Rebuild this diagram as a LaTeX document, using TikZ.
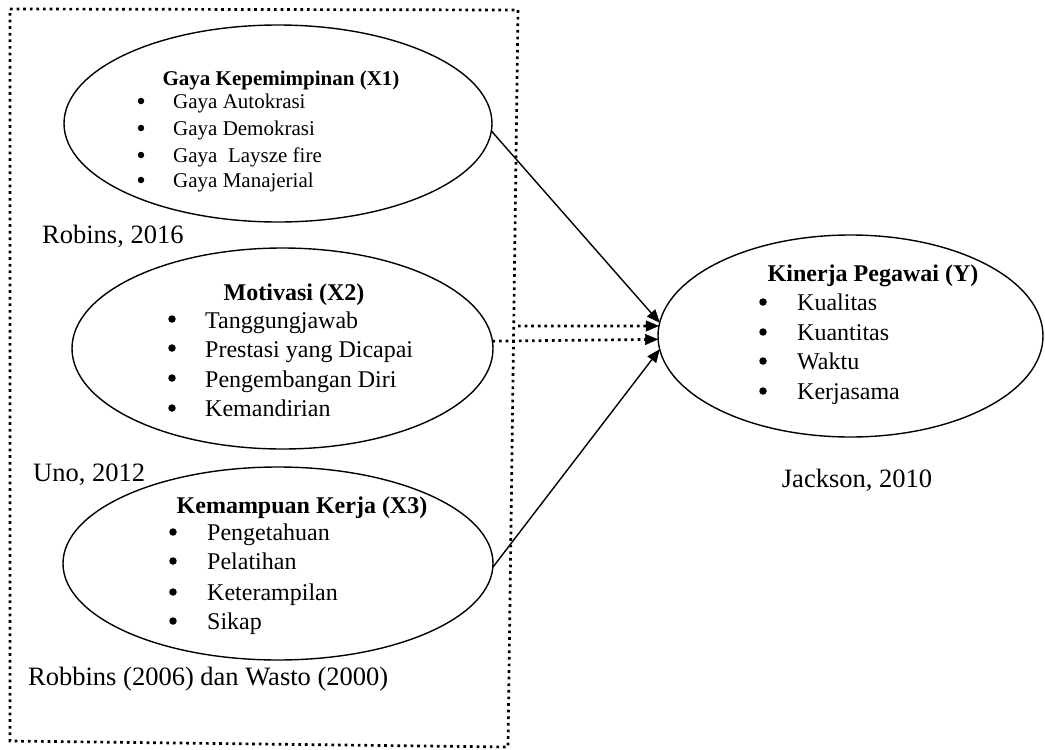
\documentclass[tikz,border=0pt]{standalone}
\usepackage{fontspec}
\setmainfont{Liberation Serif}
\usetikzlibrary{shapes.geometric,arrows.meta}
\begin{document}
\begin{tikzpicture}[x=1pt,y=-1pt,
  oval/.style={draw, ellipse, line width=1.4pt, inner sep=0pt, outer sep=0pt},
  framedots/.style={line width=2.7pt, dash pattern=on 2.7pt off 3.9pt},
  solidarrow/.style={line width=1.4pt, -{Triangle[length=13pt,width=11pt,line width=0.5pt]}},
  dotarrow/.style={line width=2.7pt, dash pattern=on 2.7pt off 3.9pt, -{Triangle[length=13pt,width=11pt,line width=0.5pt]}},
  dotA/.style={circle, fill=black, inner sep=0pt, outer sep=0pt, minimum size=6.5pt},
  dotB/.style={circle, fill=black, inner sep=0pt, outer sep=0pt, minimum size=7.5pt},
  hdA/.style={anchor=base, inner sep=0pt, font=\fontsize{21}{25}\selectfont\bfseries},
  itA/.style={anchor=base west, inner sep=0pt, font=\fontsize{21}{25}\selectfont},
  hdB/.style={anchor=base, inner sep=0pt, font=\fontsize{24}{28}\selectfont\bfseries},
  itB/.style={anchor=base west, inner sep=0pt, font=\fontsize{24}{28}\selectfont},
  src/.style={anchor=base west, inner sep=0pt, font=\fontsize{26.5}{30}\selectfont}
]
\useasboundingbox (0,0) rectangle (1045,750);

% dotted frame
\draw[framedots] (10,9) -- (518,10) -- (508,747) -- (10,741) -- cycle;

% ellipses
\node[oval, minimum width=428pt, minimum height=197pt] (x1) at (278,123.5) {};
\node[oval, minimum width=421pt, minimum height=201pt] (x2) at (282.5,348.5) {};
\node[oval, minimum width=430pt, minimum height=193pt] (x3) at (278,563.5) {};
\node[oval, minimum width=385pt, minimum height=202pt] (y) at (850.5,336) {};

% X1 text
\node[hdA] (x1h) at (281,85) {Gaya Kepemimpinan (X1)};
\node[dotA] (x1b1) at (141,101) {};
\node[dotA] (x1b2) at (141,128) {};
\node[dotA] (x1b3) at (141,155) {};
\node[dotA] (x1b4) at (141,180) {};
\node[itA] (x1i1) at (173,108) {Gaya Autokrasi};
\node[itA] (x1i2) at (173,135) {Gaya Demokrasi};
\node[itA] (x1i3) at (173,162) {Gaya\ \ Laysze fire};
\node[itA] (x1i4) at (173,187) {Gaya Manajerial};

% X2 text
\node[hdB] (x2h) at (294,300) {Motivasi (X2)};
\node[dotB] (x2b1) at (172,319) {};
\node[dotB] (x2b2) at (172,348) {};
\node[dotB] (x2b3) at (172,378) {};
\node[dotB] (x2b4) at (172,408) {};
\node[itB] (x2i1) at (205,328) {Tanggungjawab};
\node[itB] (x2i2) at (205,357) {Prestasi yang Dicapai};
\node[itB] (x2i3) at (205,387) {Pengembangan Diri};
\node[itB] (x2i4) at (205,416) {Kemandirian};

% X3 text
\node[hdB] (x3h) at (302,513) {Kemampuan Kerja (X3)};
\node[dotB] (x3b1) at (173,532) {};
\node[dotB] (x3b2) at (173,561) {};
\node[dotB] (x3b3) at (173,592) {};
\node[dotB] (x3b4) at (173,621) {};
\node[itB] (x3i1) at (207,540) {Pengetahuan};
\node[itB] (x3i2) at (207,569) {Pelatihan};
\node[itB] (x3i3) at (207,600) {Keterampilan};
\node[itB] (x3i4) at (207,629) {Sikap};

% Y text
\node[hdB] (yh) at (873,281) {Kinerja Pegawai (Y)};
\node[dotB] (yb1) at (763,302) {};
\node[dotB] (yb2) at (763,332) {};
\node[dotB] (yb3) at (763,361) {};
\node[dotB] (yb4) at (763,391) {};
\node[itB] (yi1) at (797,310) {Kualitas};
\node[itB] (yi2) at (797,340) {Kuantitas};
\node[itB] (yi3) at (797,369) {Waktu};
\node[itB] (yi4) at (797,399) {Kerjasama};

% sources
\node[src] (s1) at (42,243) {Robins, 2016};
\node[src] (s2) at (33,481) {Uno, 2012};
\node[src] (s3) at (28,685) {Robbins (2006) dan Wasto (2000)};
\node[src, anchor=base] (s4) at (857,487) {Jackson, 2010};

% connectors
\coordinate (fr) at (518,326);
\draw[solidarrow] (x1.-2.3) -- (y.176);
\draw[dotarrow] (fr) -- (y.177.6);
\draw[dotarrow] (x2.2) -- (y.181);
\draw[solidarrow] (x3.-1.2) -- (y.184.5);
\end{tikzpicture}
\end{document}
